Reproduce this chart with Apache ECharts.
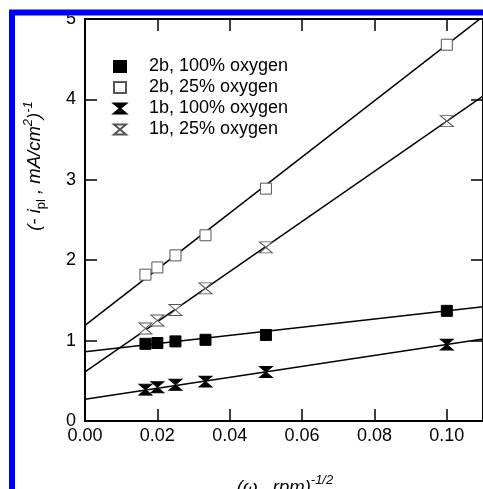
<!DOCTYPE html>
<html>
<head>
<meta charset="utf-8">
<script src="https://cdn.jsdelivr.net/npm/echarts@6/dist/echarts.min.js"></script>
<style>
  html, body { margin: 0; padding: 0; background: #fff; }
  #chart { width: 483px; height: 489px; }
</style>
</head>
<body>
<div id="chart"></div>
<script>
// Inverse rotation rate, (omega, rpm)^-1/2
const omegaInv = [0.0167, 0.02, 0.025, 0.0333, 0.05, 0.1];

// Inverse plateau current, (-i_pl, mA/cm^2)^-1
const s2b100 = [0.96, 0.97, 0.99, 1.01, 1.07, 1.37];
const s2b25  = [1.82, 1.91, 2.06, 2.31, 2.89, 4.68];
const s1b100 = [0.39, 0.42, 0.45, 0.49, 0.61, 0.95];
const s1b25  = [1.15, 1.25, 1.38, 1.65, 2.16, 3.73];

// Koutecky-Levich fit lines: value at x = 0 and x = 0.11
const fitX     = [0, 0.11];
const fit2b100 = [0.86, 1.42];
const fit2b25  = [1.19, 5.03];
const fit1b100 = [0.27, 1.02];
const fit1b25  = [0.61, 4.04];

const names = ['2b, 100% oxygen', '2b, 25% oxygen', '1b, 100% oxygen', '1b, 25% oxygen'];
const xTicks = [0, 0.02, 0.04, 0.06, 0.08, 0.10];
const yTicks = [0, 1, 2, 3, 4, 5];

const hourglass = 'path://M0,0 L12,0 L0,10 L12,10 Z';
const FONT = 'Arial, "Liberation Sans", sans-serif';

const pairs = (xs, ys) => xs.map((x, i) => [x, ys[i]]);

function scatter(name, ys, symbol, size, fill, stroke) {
  return {
    name: name, type: 'scatter', data: pairs(omegaInv, ys),
    symbol: symbol, symbolSize: size, z: 5,
    itemStyle: { color: fill, borderColor: stroke, borderWidth: 1, opacity: 1 }
  };
}
function fit(ys) {
  return {
    type: 'line', data: pairs(fitX, ys), showSymbol: false, silent: true,
    lineStyle: { color: '#000', width: 1.5 }, z: 3, clip: true
  };
}

const axisCommon = {
  type: 'value',
  axisLine: { show: true, onZero: false, lineStyle: { color: '#000', width: 2 } },
  axisTick: { show: true, inside: true, length: 12, lineStyle: { color: '#000', width: 1.5 } },
  splitLine: { show: false }
};

const chart = echarts.init(document.getElementById('chart'), null, { renderer: 'canvas' });
chart.setOption({
  animation: false,
  backgroundColor: '#fff',
  grid: { left: 85, top: 19, width: 401, height: 402 },
  xAxis: [
    Object.assign({}, axisCommon, {
      position: 'bottom', min: 0, max: 0.11, interval: 0.02,
      axisLabel: {
        color: '#000', fontSize: 18, fontFamily: FONT, margin: 6, showMaxLabel: false,
        formatter: v => (xTicks.some(t => Math.abs(t - v) < 1e-9) ? v.toFixed(2) : '')
      }
    }),
    Object.assign({}, axisCommon, {
      position: 'top', min: 0, max: 0.11, interval: 0.02,
      axisLabel: { show: false }
    })
  ],
  yAxis: [
    Object.assign({}, axisCommon, {
      position: 'left', min: 0, max: 5, interval: 1,
      axisLabel: {
        color: '#000', fontSize: 18, fontFamily: FONT, margin: 9,
        formatter: v => (yTicks.indexOf(v) >= 0 ? String(v) : '')
      }
    }),
    Object.assign({}, axisCommon, {
      position: 'right', min: 0, max: 5, interval: 1,
      axisLabel: { show: false }
    })
  ],
  legend: {
    orient: 'vertical', left: 108, top: 51, itemGap: 0,
    itemWidth: 12, itemHeight: 11,
    data: names,
    textStyle: { color: '#000', fontSize: 18, fontFamily: FONT, lineHeight: 21, padding: [0, 0, 0, 18] }
  },
  series: [
    fit(fit2b100), fit(fit2b25), fit(fit1b100), fit(fit1b25),
    scatter(names[0], s2b100, 'rect', 11, '#000', '#000'),
    scatter(names[1], s2b25, 'rect', 11, '#fff', '#555'),
    scatter(names[2], s1b100, hourglass, [13, 11], '#000', '#000'),
    scatter(names[3], s1b25, hourglass, [13, 11], '#fff', '#555')
  ],
  graphic: [
    {
      type: 'text', x: 35, y: 166, rotation: Math.PI / 2, z: 10,
      style: {
        text: '{a|(- i}{s|pl}{a| , mA/cm}{p|2}{a|)}{p|-1}',
        align: 'center', verticalAlign: 'middle', fill: '#000',
        rich: {
          a: { fontSize: 18.5, fontStyle: 'italic', fontFamily: FONT, lineHeight: 26, verticalAlign: 'middle' },
          s: { fontSize: 13, fontFamily: FONT, lineHeight: 14, verticalAlign: 'bottom' },
          p: { fontSize: 13, fontStyle: 'italic', fontFamily: FONT, lineHeight: 16, verticalAlign: 'top' }
        }
      }
    },
    {
      type: 'text', x: 285, y: 488, z: 10,
      style: {
        text: '{a|(ω , rpm)}{p|-1/2}',
        align: 'center', verticalAlign: 'middle', fill: '#000',
        rich: {
          a: { fontSize: 18.5, fontStyle: 'italic', fontFamily: FONT, lineHeight: 28, verticalAlign: 'middle' },
          p: { fontSize: 13, fontStyle: 'italic', fontFamily: FONT, lineHeight: 14, verticalAlign: 'top' }
        }
      }
    },
    {
      type: 'rect', z: 100, silent: true,
      shape: { x: 12, y: 12.5, width: 700, height: 700 },
      style: { fill: 'none', stroke: '#0000ff', lineWidth: 6 }
    }
  ]
});
</script>
</body>
</html>
